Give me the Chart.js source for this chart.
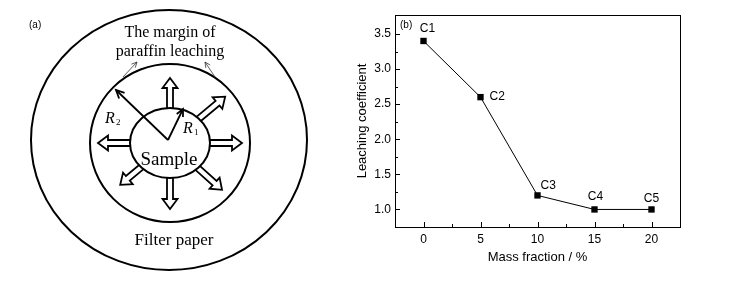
<!DOCTYPE html>
<html>
<head>
<meta charset="utf-8">
<script src="https://cdn.jsdelivr.net/npm/chart.js@4"></script>
<style>
  body { margin: 0; background: #fff; }
  #wrap { position: relative; width: 745px; height: 281px; }
  #diagram { position: absolute; left: 0; top: 0; }
  #chart { position: absolute; left: 350px; top: 0; }
</style>
</head>
<body>
<div id="wrap">
  <canvas id="diagram" width="350" height="281"></canvas>
  <canvas id="chart" width="395" height="281"></canvas>
</div>
<script>
// data for panel (b)
const massFraction = [0, 5, 10, 15, 20];
const leaching = [3.4, 2.6, 1.2, 1.0, 1.0];
const pointNames = ['C1', 'C2', 'C3', 'C4', 'C5'];
const xTicks = [0, 5, 10, 15, 20];
const xMinor = [2.5, 7.5, 12.5, 17.5];
const yTicks = [1.0, 1.5, 2.0, 2.5, 3.0, 3.5];
const yMinor = [1.25, 1.75, 2.25, 2.75, 3.25];

// where each point name sits relative to its marker
const nameOffsets = [
  { dx: 4, dy: -12, align: 'center' },
  { dx: 9, dy: 0, align: 'left' },
  { dx: 3, dy: -10, align: 'left' },
  { dx: 1, dy: -13, align: 'center' },
  { dx: 0, dy: -11, align: 'center' }
];

const sans = 'Liberation Sans, Arial, sans-serif';
const serif = 'Liberation Serif, Times New Roman, serif';

// ---- panel (a): schematic ----
const d = document.getElementById('diagram').getContext('2d');

function ellipse(cx, cy, rx, ry, fill) {
  d.beginPath();
  d.ellipse(cx, cy, rx, ry, 0, 0, Math.PI * 2);
  if (fill) { d.fillStyle = '#fff'; d.fill(); }
  d.stroke();
}

function blockArrow(cx, cy, deg, r0, r1) {
  const w = 3, h = 7.5, L = 10;
  d.save();
  d.translate(cx, cy);
  d.rotate(deg * Math.PI / 180);
  d.beginPath();
  d.moveTo(r0, -w);
  d.lineTo(r1 - L, -w);
  d.lineTo(r1 - L, -h);
  d.lineTo(r1, 0);
  d.lineTo(r1 - L, h);
  d.lineTo(r1 - L, w);
  d.lineTo(r0, w);
  d.closePath();
  d.fillStyle = '#fff';
  d.fill();
  d.stroke();
  d.restore();
}

function lineArrow(x0, y0, x1, y1, head) {
  const a = Math.atan2(y1 - y0, x1 - x0);
  d.beginPath();
  d.moveTo(x0, y0);
  d.lineTo(x1, y1);
  d.stroke();
  d.beginPath();
  d.moveTo(x1 - head * Math.cos(a - 0.45), y1 - head * Math.sin(a - 0.45));
  d.lineTo(x1, y1);
  d.lineTo(x1 - head * Math.cos(a + 0.45), y1 - head * Math.sin(a + 0.45));
  d.stroke();
}

d.strokeStyle = '#000';
d.lineWidth = 2;
ellipse(169, 140, 138, 130);
ellipse(170, 143, 80, 79);

d.lineWidth = 1.8;
blockArrow(170, 143, -90, 30, 65);
blockArrow(170, 143, -40, 30, 72);
blockArrow(170, 143, 0, 30, 72);
blockArrow(170, 143, 42, 30, 70);
blockArrow(170, 143, 90, 30, 66);
blockArrow(170, 143, 140, 30, 65);
blockArrow(170, 143, 180, 30, 72);

d.lineWidth = 2;
ellipse(170, 143, 40, 35, true);

d.lineWidth = 1.8;
lineArrow(168, 140, 116, 90, 9);
lineArrow(168, 140, 183, 109, 8);

d.lineWidth = 0.8;
d.strokeStyle = '#333';
lineArrow(123, 77, 137, 62, 6);
lineArrow(215, 77, 205, 62, 6);
d.strokeStyle = '#000';

d.fillStyle = '#000';
d.textAlign = 'center';
d.textBaseline = 'alphabetic';
d.font = '16px ' + serif;
d.fillText('The margin of', 170, 37);
d.fillText('paraffin leaching', 170, 56);
d.font = '19px ' + serif;
d.fillText('Sample', 169, 165);
d.font = '17px ' + serif;
d.fillText('Filter paper', 174, 245);

d.textAlign = 'left';
d.font = 'italic 16px ' + serif;
d.fillText('R', 105, 123);
d.fillText('R', 183, 133);
d.font = '9px ' + serif;
d.fillText('2', 116, 125);
d.fillText('1', 194, 135);

d.font = '10px ' + sans;
d.textBaseline = 'middle';
d.fillText('(a)', 29, 25);

// ---- panel (b): chart ----
const framePlugin = {
  id: 'frame',
  afterDraw(chart) {
    const { ctx, chartArea: a, scales } = chart;
    ctx.save();
    ctx.strokeStyle = '#000';
    ctx.lineWidth = 1;
    ctx.strokeRect(a.left + 0.5, a.top + 0.5, a.right - a.left, a.bottom - a.top);

    // inward ticks
    ctx.beginPath();
    xTicks.forEach(v => {
      const x = Math.round(scales.x.getPixelForValue(v)) + 0.5;
      ctx.moveTo(x, a.bottom); ctx.lineTo(x, a.bottom - 5);
    });
    xMinor.forEach(v => {
      const x = Math.round(scales.x.getPixelForValue(v)) + 0.5;
      ctx.moveTo(x, a.bottom); ctx.lineTo(x, a.bottom - 3);
    });
    yTicks.forEach(v => {
      const y = Math.round(scales.y.getPixelForValue(v)) + 0.5;
      ctx.moveTo(a.left, y); ctx.lineTo(a.left + 5, y);
    });
    yMinor.forEach(v => {
      const y = Math.round(scales.y.getPixelForValue(v)) + 0.5;
      ctx.moveTo(a.left, y); ctx.lineTo(a.left + 3, y);
    });
    ctx.stroke();

    // point names
    ctx.fillStyle = '#000';
    ctx.font = '12px ' + sans;
    ctx.textBaseline = 'middle';
    chart.getDatasetMeta(0).data.forEach((pt, i) => {
      const o = nameOffsets[i];
      ctx.textAlign = o.align;
      ctx.fillText(pointNames[i], pt.x + o.dx, pt.y + o.dy);
    });

    ctx.font = '10px ' + sans;
    ctx.textAlign = 'left';
    ctx.fillText('(b)', a.left + 5, a.top + 10);
    ctx.restore();
  }
};

new Chart(document.getElementById('chart'), {
  type: 'line',
  data: {
    datasets: [{
      data: massFraction.map((x, i) => ({ x: x, y: leaching[i] })),
      borderColor: '#000',
      borderWidth: 1,
      tension: 0,
      pointStyle: 'rect',
      pointRadius: 4.5,
      pointBackgroundColor: '#000',
      pointBorderWidth: 0
    }]
  },
  options: {
    responsive: false,
    animation: false,
    layout: { padding: { left: 0, top: 15, right: 65, bottom: 0 } },
    plugins: { legend: { display: false }, tooltip: { enabled: false } },
    scales: {
      x: {
        type: 'linear',
        min: -2.5,
        max: 22.5,
        afterBuildTicks: s => { s.ticks = xTicks.map(v => ({ value: v })); },
        afterFit: s => { s.height = 54; },
        grid: { display: false, drawTicks: false },
        border: { display: false },
        ticks: { color: '#000', font: { family: sans, size: 12 }, padding: 5, maxRotation: 0 },
        title: {
          display: true, text: 'Mass fraction / %', color: '#000',
          font: { family: sans, size: 13 }, padding: { top: 0, bottom: 16 }
        }
      },
      y: {
        min: 0.75,
        max: 3.77,
        afterBuildTicks: s => { s.ticks = yTicks.map(v => ({ value: v })); },
        afterFit: s => { s.width = 45; },
        grid: { display: false, drawTicks: false },
        border: { display: false },
        ticks: { color: '#000', font: { family: sans, size: 12 }, padding: 4, callback: v => v.toFixed(1) },
        title: {
          display: true, text: 'Leaching coefficient', color: '#000',
          font: { family: sans, size: 13 }, padding: { top: 5, bottom: 0 }
        }
      }
    }
  },
  plugins: [framePlugin]
});
</script>
</body>
</html>
